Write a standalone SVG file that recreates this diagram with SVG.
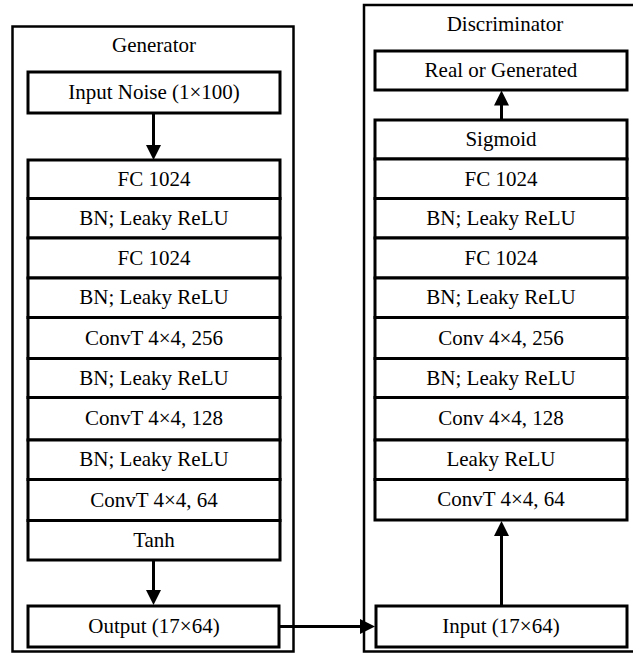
<svg xmlns="http://www.w3.org/2000/svg" width="633" height="654" viewBox="0 0 633 654" font-family="Liberation Serif, Times New Roman, serif">
<style>
.outer{fill:none;stroke:#000;stroke-width:2.5}
.box{fill:#fff;stroke:#000;stroke-width:3}
.t{font-size:21px;fill:#000;text-anchor:middle}
.c{fill:none;stroke:#000;stroke-width:3}
</style>
<defs>
<marker id="ah" markerUnits="userSpaceOnUse" markerWidth="15" markerHeight="15" refX="5" refY="7.5" orient="auto">
<path d="M0,0 L15,7.5 L0,15 z" fill="#000"/>
</marker>
</defs>
<rect width="633" height="654" fill="#fff"/>
<g id="generator">
<rect class="outer" x="12.5" y="26.5" width="281" height="625"/>
<text class="t" x="154" y="52">Generator</text>
</g>
<g id="discriminator">
<rect class="outer" x="364" y="5" width="285" height="646.5"/>
<text class="t" x="505" y="30.5">Discriminator</text>
</g>
<g id="connectors">
<line class="c" x1="153.5" y1="113" x2="153.5" y2="150" marker-end="url(#ah)"/>
<line class="c" x1="153.5" y1="560" x2="153.5" y2="595" marker-end="url(#ah)"/>
<line class="c" x1="279" y1="626.5" x2="365" y2="626.5" marker-end="url(#ah)"/>
<line class="c" x1="501.5" y1="606" x2="501.5" y2="531" marker-end="url(#ah)"/>
<line class="c" x1="501.5" y1="120" x2="501.5" y2="100.5" marker-end="url(#ah)"/>
</g>
<g id="g-input"><rect class="box" x="28" y="72" width="252" height="41"/><text class="t" x="154" y="99">Input Noise (1×100)</text></g>
<g id="g-fc1"><rect class="box" x="28" y="160" width="252" height="38.5"/><text class="t" x="154" y="185.5">FC 1024</text></g>
<g id="g-bn1"><rect class="box" x="28" y="198.5" width="252" height="39.5"/><text class="t" x="154" y="224.5">BN; Leaky ReLU</text></g>
<g id="g-fc2"><rect class="box" x="28" y="238" width="252" height="40"/><text class="t" x="154" y="264.5">FC 1024</text></g>
<g id="g-bn2"><rect class="box" x="28" y="278" width="252" height="39.5"/><text class="t" x="154" y="304">BN; Leaky ReLU</text></g>
<g id="g-convt1"><rect class="box" x="28" y="317.5" width="252" height="41"/><text class="t" x="154" y="344.5">ConvT 4×4, 256</text></g>
<g id="g-bn3"><rect class="box" x="28" y="358.5" width="252" height="39"/><text class="t" x="154" y="384.5">BN; Leaky ReLU</text></g>
<g id="g-convt2"><rect class="box" x="28" y="397.5" width="252" height="42.5"/><text class="t" x="154" y="425">ConvT 4×4, 128</text></g>
<g id="g-bn4"><rect class="box" x="28" y="440" width="252" height="39.5"/><text class="t" x="154" y="466">BN; Leaky ReLU</text></g>
<g id="g-convt3"><rect class="box" x="28" y="479.5" width="252" height="41"/><text class="t" x="154" y="506.5">ConvT 4×4, 64</text></g>
<g id="g-tanh"><rect class="box" x="28" y="520.5" width="252" height="39.5"/><text class="t" x="154" y="546.5">Tanh</text></g>
<g id="g-output"><rect class="box" x="28" y="606" width="251" height="41"/><text class="t" x="154" y="633">Output (17×64)</text></g>
<g id="d-out"><rect class="box" x="375" y="51" width="252" height="39"/><text class="t" x="501" y="77">Real or Generated</text></g>
<g id="d-sigmoid"><rect class="box" x="375" y="120" width="252" height="39"/><text class="t" x="501" y="146">Sigmoid</text></g>
<g id="d-fc1"><rect class="box" x="375" y="159" width="252" height="39.5"/><text class="t" x="501" y="185.5">FC 1024</text></g>
<g id="d-bn1"><rect class="box" x="375" y="198.5" width="252" height="39.5"/><text class="t" x="501" y="224.5">BN; Leaky ReLU</text></g>
<g id="d-fc2"><rect class="box" x="375" y="238" width="252" height="40"/><text class="t" x="501" y="264.5">FC 1024</text></g>
<g id="d-bn2"><rect class="box" x="375" y="278" width="252" height="39.5"/><text class="t" x="501" y="304">BN; Leaky ReLU</text></g>
<g id="d-conv1"><rect class="box" x="375" y="317.5" width="252" height="41"/><text class="t" x="501" y="344.5">Conv 4×4, 256</text></g>
<g id="d-bn3"><rect class="box" x="375" y="358.5" width="252" height="39"/><text class="t" x="501" y="384.5">BN; Leaky ReLU</text></g>
<g id="d-conv2"><rect class="box" x="375" y="397.5" width="252" height="42.5"/><text class="t" x="501" y="425">Conv 4×4, 128</text></g>
<g id="d-leaky"><rect class="box" x="375" y="440" width="252" height="39.5"/><text class="t" x="501" y="466">Leaky ReLU</text></g>
<g id="d-convt"><rect class="box" x="375" y="479.5" width="252" height="40.5"/><text class="t" x="501" y="506">ConvT 4×4, 64</text></g>
<g id="d-input"><rect class="box" x="376" y="606" width="251" height="41"/><text class="t" x="501" y="633">Input (17×64)</text></g>
</svg>
